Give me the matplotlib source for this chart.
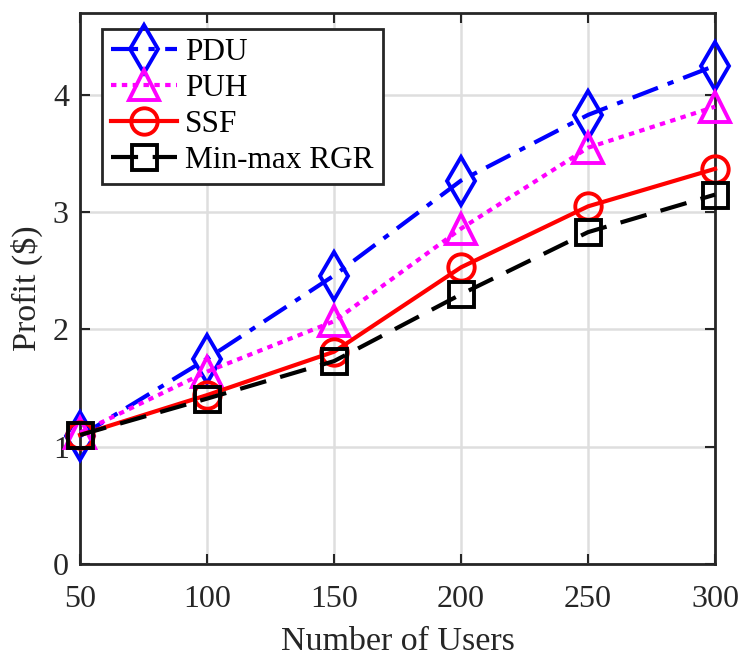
import matplotlib
matplotlib.use("Agg")
import matplotlib.pyplot as plt

users = [50, 100, 150, 200, 250, 300]
pdu = [1.09, 1.75, 2.46, 3.27, 3.83, 4.25]
puh = [1.12, 1.64, 2.07, 2.86, 3.55, 3.90]
ssf = [1.10, 1.44, 1.81, 2.53, 3.05, 3.37]
minmax = [1.10, 1.41, 1.73, 2.30, 2.83, 3.15]
labels = ["PDU", "PUH", "SSF", "Min-max RGR"]

plt.rcParams['font.family'] = ['Liberation Serif', 'DejaVu Serif']
plt.rcParams['mathtext.fontset'] = 'stix'

fig = plt.figure(figsize=(7.41, 6.60), dpi=100)
ax = fig.add_axes([0.108, 0.1455, 0.857, 0.835])

lw = 3.0
mew = 2.8
common = dict(lw=lw, mfc='none', mew=mew, zorder=3, clip_on=False)
ax.plot(users, pdu, color='#0000ff', linestyle=(0, (6.5, 2.5, 1.5, 2.5)), marker='d', ms=24,
        label=labels[0], **common)
ax.plot(users, puh, color='#ff00ff', linestyle=(0, (1.3, 1.3)), marker='^', ms=22,
        label=labels[1], **common)
ax.plot(users, ssf, color='#ff0000', linestyle='-', marker='o', ms=19,
        label=labels[2], **common)
ax.plot(users, minmax, color='#000000', linestyle=(0, (6.5, 3.5)), marker='s', ms=18,
        label=labels[3], **common)

ax.set_xlim(50, 300)
ax.set_ylim(0, 4.7)
ax.set_xticks(users)
ax.set_yticks([0, 1, 2, 3, 4])
ax.grid(True, color='#dedede', linewidth=1.8)
ax.set_axisbelow(True)
ax.tick_params(direction='in', length=7, width=1.5, labelsize=23, top=True, right=True,
               colors='#262626')
ax.tick_params(axis='x', pad=15)
ax.tick_params(axis='y', pad=8)
for s in ax.spines.values():
    s.set_linewidth(2.0)
    s.set_color('#262626')
    s.set_zorder(2.5)
ax.set_xlabel('Number of Users', fontsize=24.5, color='#262626', labelpad=9)
ax.set_ylabel('Profit ($)', fontsize=24.5, color='#262626', labelpad=7)

leg = ax.legend(loc='upper left', bbox_to_anchor=(0.0346, 0.971), fontsize=22.5, frameon=True,
                fancybox=False, edgecolor='#262626', handlelength=2.1, borderpad=0.3,
                labelspacing=0.22, handletextpad=0.26, borderaxespad=0.0, framealpha=1.0)
leg.get_frame().set_linewidth(2.0)
leg.set_zorder(5)

fig.savefig('out.png', dpi=100)
